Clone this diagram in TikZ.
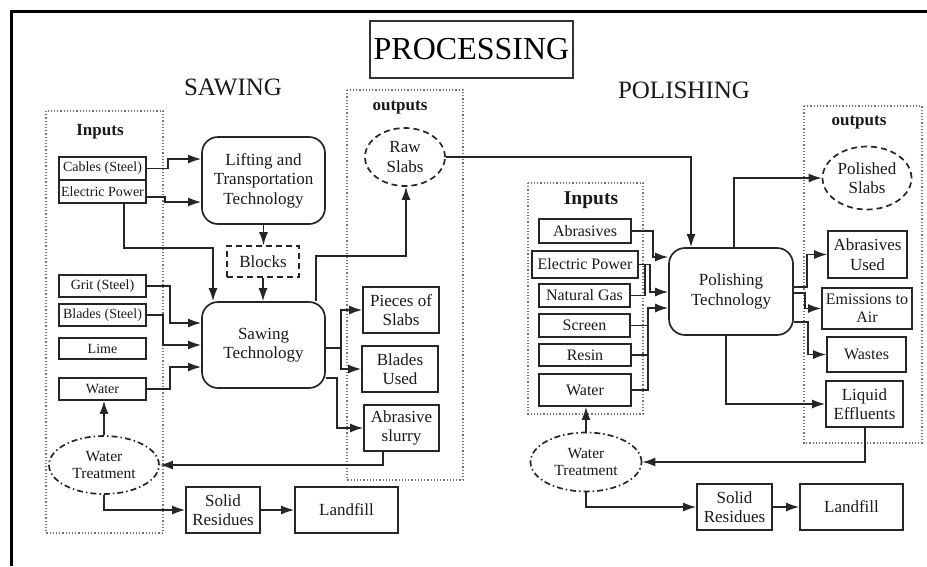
\documentclass[tikz,border=0pt]{standalone}
\usepackage{fontspec}
\setmainfont{Liberation Serif}
\usetikzlibrary{arrows.meta,shapes.geometric}

% font sizes (1pt of canvas = 1 unit)
\newcommand\fsSmall{\fontsize{14}{16}\selectfont}
\newcommand\fsMid{\fontsize{15.5}{17.5}\selectfont}
\newcommand\fsIn{\fontsize{16}{18}\selectfont}
\newcommand\fsBox{\fontsize{17}{19.5}\selectfont}

\tikzset{
  box/.style={draw=black!85, line width=1.7pt, inner sep=0pt, align=center,
              text=black!90, font=\fsBox},
  rbox/.style={box, rounded corners=16pt},
  dbox/.style={box, dash pattern=on 6pt off 4pt},
  oval/.style={box, ellipse, dash pattern=on 6pt off 4pt},
  wtoval/.style={box, ellipse, font=\fsMid,
                 dash pattern=on 6pt off 3pt on 1.5pt off 3pt},
  grp/.style={draw=black!55, line width=1.4pt, dash pattern=on 1.2pt off 2pt},
  ln/.style={draw=black!85, line width=1.4pt},
  arr/.style={ln, -{Latex[length=13pt,width=9pt]}},
  heading/.style={text=black!90, inner sep=0pt},
}

\begin{document}
\begin{tikzpicture}[x=1pt,y=-1pt]
\useasboundingbox (0,0) rectangle (927,566);

% outer frame (left and top edges)
\draw[line width=3.5pt] (11.5,566) -- (11.5,11.5) -- (927,11.5);

% headings
\node[draw=black!80, line width=1.5pt, minimum width=203pt, minimum height=57pt,
      inner sep=0pt, font=\fontsize{32}{34}\selectfont] (title) at (471.5,49.5) {PROCESSING};
\node[heading, font=\fontsize{25}{27}\selectfont] (sawing) at (233,87) {SAWING};
\node[heading, font=\fontsize{25}{27}\selectfont] (polishing) at (684,90) {POLISHING};

% group frames
\draw[grp] (46,111) rectangle (163,533);
\draw[grp] (347,90) rectangle (463,480);
\draw[grp] (528,183) rectangle (643,414);
\draw[grp] (804,106) rectangle (922,443);

\node[heading, font=\fontsize{17}{19}\selectfont\bfseries] (in1) at (100,132) {Inputs};
\node[heading, font=\fontsize{17}{19}\selectfont\bfseries] (out1) at (400,108) {outputs};
\node[heading, font=\fontsize{19.5}{21}\selectfont\bfseries] (in2) at (591,200) {Inputs};
\node[heading, font=\fontsize{17}{19}\selectfont\bfseries] (out2) at (859,123) {outputs};

% ---------------- sawing ----------------
\node[box, font=\fsSmall, minimum width=87pt, minimum height=23pt] (cables) at (102.5,168.5) {Cables (Steel)};
\node[box, font=\fsSmall, minimum width=87pt, minimum height=23pt] (epow1) at (102.5,191.5) {Electric Power};
\node[box, font=\fsSmall, minimum width=87pt, minimum height=22pt] (grit) at (102.5,286) {Grit (Steel)};
\node[box, font=\fsSmall, minimum width=87pt, minimum height=22pt] (bladesS) at (102.5,315) {Blades (Steel)};
\node[box, font=\fsSmall, minimum width=87pt, minimum height=21pt] (lime) at (102.5,348.5) {Lime};
\node[box, font=\fsSmall, minimum width=87pt, minimum height=22pt] (water1) at (102.5,389) {Water};
\node[wtoval, minimum width=110pt, minimum height=58pt] (wt1) at (104,465) {Water\\Treatment};

\node[rbox, minimum width=123pt, minimum height=87pt] (lift) at (263.5,180.5) {Lifting and\\Transportation\\Technology};
\node[dbox, minimum width=72pt, minimum height=31pt] (blocks) at (263,261.5) {Blocks};
\node[rbox, minimum width=123pt, minimum height=86pt] (saw) at (263.5,345) {Sawing\\Technology};

\node[oval, minimum width=80pt, minimum height=58pt] (raw) at (405,157) {Raw\\Slabs};
\node[box, minimum width=76pt, minimum height=46pt] (pieces) at (401,310) {Pieces of\\Slabs};
\node[box, minimum width=76pt, minimum height=46pt] (bladesU) at (400,369) {Blades\\Used};
\node[box, minimum width=75pt, minimum height=46pt] (slurry) at (401.5,428) {Abrasive\\slurry};

\node[box, minimum width=74pt, minimum height=46pt] (solid1) at (223,510) {Solid\\Residues};
\node[box, minimum width=103pt, minimum height=46pt] (land1) at (346.5,510) {Landfill};

% ---------------- polishing ----------------
\node[box, font=\fsIn, minimum width=92pt, minimum height=24pt] (abr) at (585,231) {Abrasives};
\node[box, font=\fsIn, minimum width=106pt, minimum height=27pt] (epow2) at (585,264.5) {Electric Power};
\node[box, font=\fsIn, minimum width=91pt, minimum height=23pt] (gas) at (584.5,295.5) {Natural Gas};
\node[box, font=\fsIn, minimum width=91pt, minimum height=23pt] (screen) at (584.5,325.5) {Screen};
\node[box, font=\fsIn, minimum width=92pt, minimum height=22pt] (resin) at (585,355) {Resin};
\node[box, font=\fsIn, minimum width=92pt, minimum height=32pt] (water2) at (585,390) {Water};
\node[wtoval, minimum width=111pt, minimum height=59pt] (wt2) at (586,462) {Water\\Treatment};

\node[rbox, minimum width=124pt, minimum height=87pt] (pol) at (731,291.5) {Polishing\\Technology};

\node[oval, minimum width=89pt, minimum height=63pt] (polished) at (867,178) {Polished\\Slabs};
\node[box, minimum width=79pt, minimum height=47pt] (abrU) at (867.5,254.5) {Abrasives\\Used};
\node[box, font=\fsIn, minimum width=90pt, minimum height=41pt] (emis) at (867,308.5) {Emissions to\\Air};
\node[box, font=\fsIn, minimum width=79pt, minimum height=35pt] (wastes) at (866.5,354.5) {Wastes};
\node[box, minimum width=77pt, minimum height=46pt] (liquid) at (864.5,404) {Liquid\\Effluents};

\node[box, minimum width=75pt, minimum height=46pt] (solid2) at (734.5,507) {Solid\\Residues};
\node[box, minimum width=103pt, minimum height=46pt] (land2) at (851.5,507) {Landfill};

% sawing connectors
\draw[arr] (cables.east) -- (168,168.5) |- (lift.west |- 0,159);
\draw[arr] (epow1.east |- 0,197) -- (165,197) |- (lift.west |- 0,202);
\draw[arr] (epow1.south -| 124,0) |- (213,248) -- (saw.north -| 213,0);
\draw[arr] (lift.south) -- (lift.south |- blocks.north);
\draw[arr] (blocks.south) -- (blocks.south |- saw.north);
\draw[arr] (saw.north -| 316,0) |- (406,256) -- (raw.south -| 406,0);
\draw[arr] (raw.east) -| (pol.north -| 691,0);
\draw[arr] (grit.east) -- (170,286) |- (saw.west |- 0,323);
\draw[arr] (bladesS.east) -- (163,315) |- (saw.west |- 0,345);
\draw[arr] (water1.east) -- (170,389) |- (saw.west |- 0,367);
\coordinate (sawsplit) at (341,348);
\draw[ln] (saw.east |- sawsplit) -- (sawsplit);
\draw[arr] (sawsplit) |- (pieces.west);
\draw[arr] (sawsplit) |- (bladesU.west);
\draw[arr] (saw.east |- 0,378) -- (337,378) |- (slurry.west);
\draw[arr] (slurry.south -| 383,0) |- (wt1.east);
\draw[arr] (wt1.north) -- (wt1.north |- water1.south);
\draw[arr] (wt1.south) |- (solid1.west);
\draw[arr] (solid1.east) -- (land1.west);

% polishing connectors
\draw[arr] (abr.east) -- (653,231) |- (pol.west |- 0,257);
\draw[arr] (epow2.east) -- (650,264.5) |- (pol.west |- 0,292);
\draw[ln] (gas.east) -| (645,264.5);
\draw[arr] (screen.east) -- (648,325.5) |- (pol.west |- 0,308);
\draw[ln] (resin.east) -| (648,325.5);
\draw[ln] (water2.east) -| (648,355);
\draw[arr] (wt2.north) -- (wt2.north |- water2.south);
\draw[arr] (liquid.south -| 865,0) |- (wt2.east);
\draw[arr] (wt2.south) |- (solid2.west);
\draw[arr] (solid2.east) -- (land2.west);
\draw[arr] (pol.north -| 734,0) |- (polished.west);
\draw[arr] (pol.east |- 0,287) -- (807,287) |- (abrU.west);
\draw[arr] (pol.east |- 0,293) -- (805,293) |- (emis.west);
\draw[arr] (pol.east |- 0,322) -- (808,322) |- (wastes.west);
\draw[arr] (pol.south -| 726,0) |- (liquid.west);
\end{tikzpicture}
\end{document}
